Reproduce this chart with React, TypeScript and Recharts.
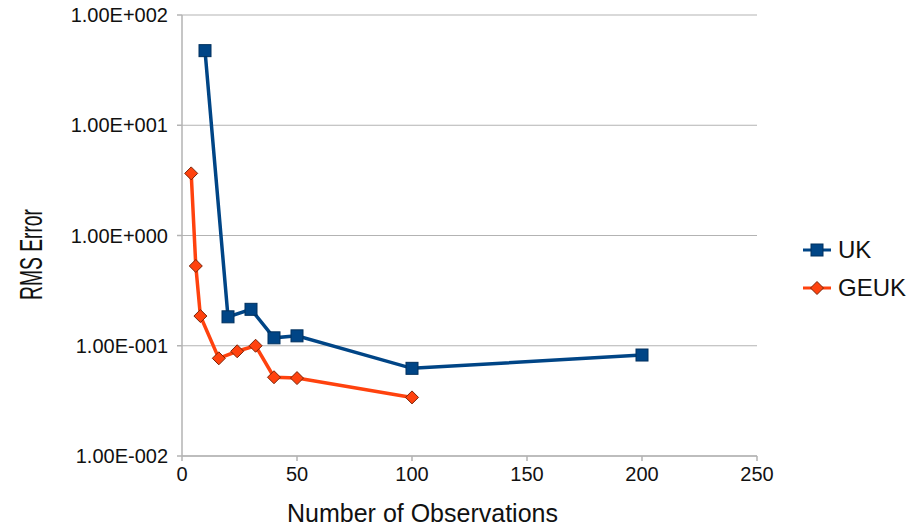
import React from "react";
import { LineChart, Line, XAxis, YAxis, CartesianGrid } from "recharts";

// UK series
const ukObs = [10, 20, 30, 40, 50, 100, 200];
const ukErr = [47.5, 0.183, 0.214, 0.118, 0.123, 0.0624, 0.0824];

// GEUK series
const geukObs = [4, 6, 8, 16, 24, 32, 40, 50, 100];
const geukErr = [3.66, 0.529, 0.186, 0.0769, 0.0891, 0.1, 0.0518, 0.0509, 0.034];

// axes
const xTicks = [0, 50, 100, 150, 200, 250];
const yTicks = [0.01, 0.1, 1, 10, 100];
const yTickLabels = ["1.00E-002", "1.00E-001", "1.00E+000", "1.00E+001", "1.00E+002"];

const ukData = ukObs.map((x, i) => ({ x, uk: ukErr[i] }));
const geukData = geukObs.map((x, i) => ({ x, geuk: geukErr[i] }));

const BLUE = "#004586";
const ORANGE = "#ff420e";
const GRID = "#b3b3b3";
const FONT = '"Liberation Sans", Arial, sans-serif';

// 四角マーカー
const SquareDot = (props: any) => {
  const { cx, cy, index } = props;
  if (cx == null || cy == null) return null;
  return (
    <rect key={"sq" + index} x={cx - 6} y={cy - 6} width={12} height={12} fill={BLUE} stroke="#00305e" strokeWidth={1} />
  );
};

// ひし形マーカー
const DiamondDot = (props: any) => {
  const { cx, cy, index } = props;
  if (cx == null || cy == null) return null;
  const r = 6.5;
  return (
    <polygon
      key={"dm" + index}
      points={`${cx},${cy - r} ${cx + r},${cy} ${cx},${cy + r} ${cx - r},${cy}`}
      fill={ORANGE}
      stroke="#7a2408"
      strokeWidth={1}
    />
  );
};

const LegendBox = () => (
  <div style={{ position: "absolute", left: 802, top: 231, fontFamily: FONT, fontSize: 24, color: "#111" }}>
    <div style={{ display: "flex", alignItems: "center", height: 38 }}>
      <svg width={30} height={16} style={{ marginRight: 6 }}>
        <line x1={1} y1={8} x2={29} y2={8} stroke={BLUE} strokeWidth={3} />
        <rect x={9} y={2} width={12} height={12} fill={BLUE} stroke="#00305e" />
      </svg>
      <span>UK</span>
    </div>
    <div style={{ display: "flex", alignItems: "center", height: 38 }}>
      <svg width={30} height={16} style={{ marginRight: 6 }}>
        <line x1={1} y1={8} x2={29} y2={8} stroke={ORANGE} strokeWidth={3} />
        <polygon points="15,1.5 21.5,8 15,14.5 8.5,8" fill={ORANGE} stroke="#7a2408" />
      </svg>
      <span>GEUK</span>
    </div>
  </div>
);

const YTick = (props: any) => {
  const { x, y, payload } = props;
  const i = yTicks.indexOf(payload.value);
  return (
    <text x={x} y={y} dy="0.36em" textAnchor="end" fontFamily={FONT} fontSize={20} fill="#111">
      {yTickLabels[i]}
    </text>
  );
};

export default function App() {
  return (
    <div style={{ position: "absolute", left: 0, top: 0, width: 920, height: 530, background: "#fff" }}>
      <LineChart width={920} height={530} margin={{ top: 15, right: 163, bottom: 0, left: 0 }}>
        <CartesianGrid vertical={false} stroke={GRID} strokeWidth={1.2} />
        <XAxis
          type="number"
          dataKey="x"
          domain={[0, 250]}
          ticks={xTicks}
          height={74}
          stroke={GRID}
          strokeWidth={1.5}
          tickSize={5}
          tickMargin={6}
          tick={{ fontFamily: FONT, fontSize: 20, fill: "#111" }}
          allowDuplicatedCategory={false}
          label={(p: any) => {
            const vb = p.viewBox;
            return (
              <text x={vb.x + vb.width / 2 - 47} y={vb.y + 66} textAnchor="middle" fontFamily={FONT} fontSize={25} fill="#111">
                Number of Observations
              </text>
            );
          }}
        />
        <YAxis
          scale="log"
          domain={[0.01, 100]}
          ticks={yTicks}
          allowDataOverflow
          width={182}
          stroke={GRID}
          strokeWidth={1.5}
          tickSize={5}
          tickMargin={9}
          tick={<YTick />}
          label={(p: any) => {
            const vb = p.viewBox;
            const cx = 31;
            const cy = vb.y + vb.height / 2 + 19;
            return (
              <text
                x={cx}
                y={cy}
                transform={`rotate(-90 ${cx} ${cy})`}
                textAnchor="middle"
                dominantBaseline="central"
                fontFamily={FONT}
                fontSize={31}
                textLength={91}
                lengthAdjust="spacingAndGlyphs"
                fill="#111"
              >
                RMS Error
              </text>
            );
          }}
        />
        <Line
          data={ukData}
          dataKey="uk"
          type="linear"
          stroke={BLUE}
          strokeWidth={3.5}
          dot={SquareDot}
          activeDot={false}
          isAnimationActive={false}
        />
        <Line
          data={geukData}
          dataKey="geuk"
          type="linear"
          stroke={ORANGE}
          strokeWidth={3.5}
          dot={DiamondDot}
          activeDot={false}
          isAnimationActive={false}
        />
      </LineChart>
      <LegendBox />
    </div>
  );
}
